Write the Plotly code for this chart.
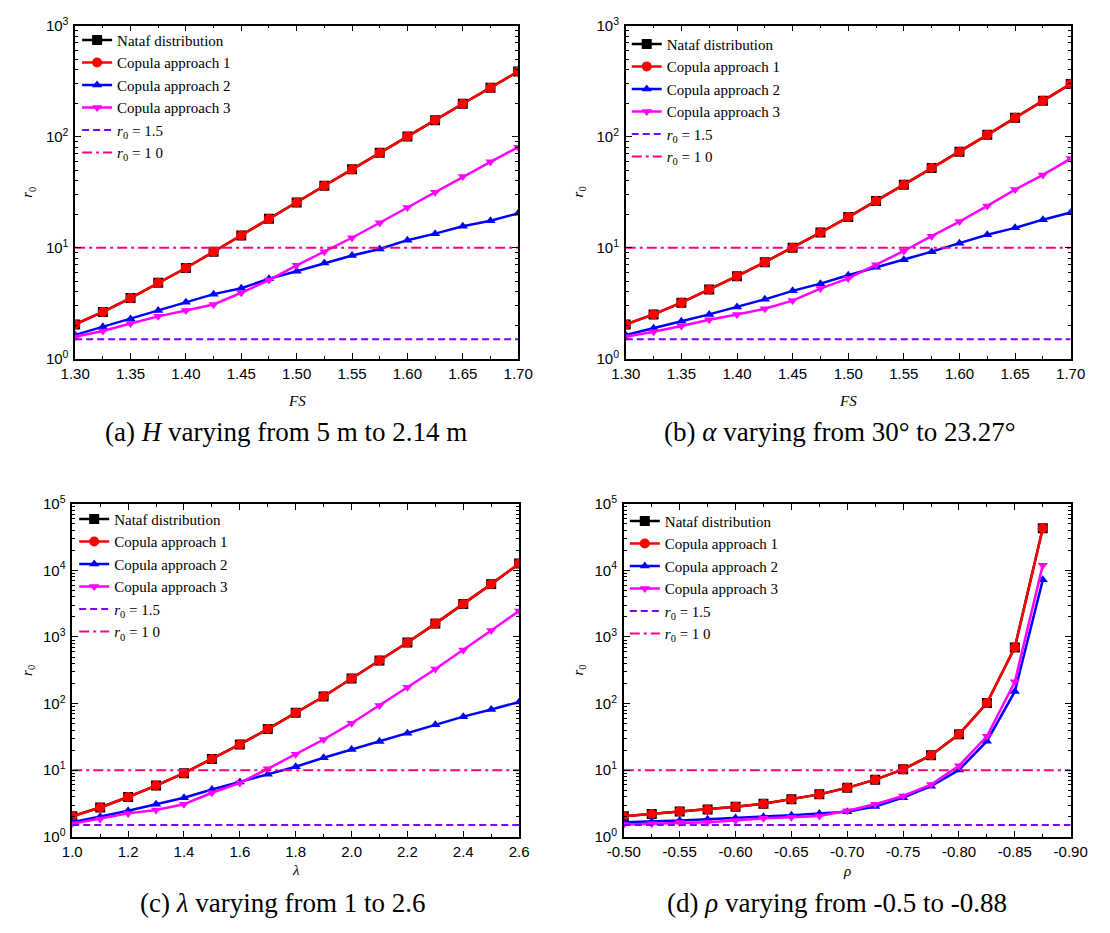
import plotly.graph_objects as go

# ---------------- data ----------------
fs_vals = [1.30, 1.325, 1.35, 1.375, 1.40, 1.425, 1.45, 1.475, 1.50, 1.525, 1.55, 1.575, 1.60, 1.625, 1.65, 1.675, 1.70]
lam_vals = [1.0, 1.1, 1.2, 1.3, 1.4, 1.5, 1.6, 1.7, 1.8, 1.9, 2.0, 2.1, 2.2, 2.3, 2.4, 2.5, 2.6]
rho_vals = [-0.500, -0.525, -0.550, -0.575, -0.600, -0.625, -0.650, -0.675, -0.700, -0.725, -0.750, -0.775, -0.800, -0.825, -0.850, -0.875]

a_nataf = [2.04, 2.64, 3.52, 4.84, 6.57, 9.2, 12.9, 18.2, 25.6, 36.2, 50.8, 71.8, 100.7, 141, 198, 276, 387]
a_cop1 = [2.04, 2.64, 3.52, 4.84, 6.57, 9.2, 12.9, 18.2, 25.6, 36.2, 50.8, 71.8, 100.7, 141, 198, 276, 387]
a_cop2 = [1.64, 1.94, 2.28, 2.72, 3.23, 3.82, 4.32, 5.25, 6.14, 7.27, 8.5, 9.73, 11.7, 13.4, 15.6, 17.5, 20.4]
a_cop3 = [1.58, 1.78, 2.08, 2.41, 2.72, 3.08, 3.93, 5.11, 6.94, 9.22, 12.3, 16.8, 23.0, 31.6, 43.8, 59.4, 80.5]

b_nataf = [2.04, 2.51, 3.2, 4.2, 5.55, 7.42, 10.0, 13.7, 18.9, 26.3, 37.0, 52.2, 73.2, 104, 148, 211, 299]
b_cop1 = [2.04, 2.51, 3.2, 4.2, 5.55, 7.42, 10.0, 13.7, 18.9, 26.3, 37.0, 52.2, 73.2, 104, 148, 211, 299]
b_cop2 = [1.64, 1.88, 2.18, 2.51, 2.92, 3.43, 4.09, 4.75, 5.66, 6.66, 7.78, 9.22, 11.0, 13.1, 15.1, 17.9, 20.8]
b_cop3 = [1.58, 1.75, 1.97, 2.25, 2.5, 2.82, 3.34, 4.29, 5.29, 7.03, 9.35, 12.7, 17.2, 23.8, 33.4, 45.3, 63.5]

c_nataf = [2.04, 2.76, 3.96, 5.88, 9.03, 14.7, 24.4, 41.5, 72.9, 128, 238, 443, 826, 1588, 3126, 6220, 12680]
c_cop1 = [2.04, 2.76, 3.96, 5.88, 9.03, 14.7, 24.4, 41.5, 72.9, 128, 238, 443, 826, 1588, 3126, 6220, 12680]
c_cop2 = [1.66, 2.01, 2.47, 3.09, 3.87, 5.14, 6.66, 8.73, 11.3, 15.4, 20.4, 27.0, 35.8, 48.0, 63.7, 81.6, 106]
c_cop3 = [1.57, 1.86, 2.25, 2.52, 3.09, 4.59, 6.44, 10.5, 17.4, 28.9, 50.8, 93.5, 176, 331, 637, 1253, 2466]

d_nataf = [2.04, 2.2, 2.41, 2.58, 2.83, 3.13, 3.66, 4.34, 5.44, 7.21, 10.3, 16.8, 34.6, 102, 697, 42900]
d_cop1 = [2.04, 2.2, 2.41, 2.58, 2.83, 3.13, 3.66, 4.34, 5.44, 7.21, 10.3, 16.8, 34.6, 102, 697, 42900]
d_cop2 = [1.66, 1.7, 1.76, 1.84, 1.92, 2.01, 2.11, 2.25, 2.38, 2.86, 3.87, 5.75, 10.1, 27.3, 152, 7210]
d_cop3 = [1.53, 1.57, 1.64, 1.66, 1.76, 1.90, 1.97, 2.06, 2.47, 3.09, 4.1, 6.09, 11.7, 32.3, 213, 11980]

r0_low = 1.5
r0_high = 10

series_names = ["Nataf distribution", "Copula approach 1", "Copula approach 2", "Copula approach 3"]
line_names = ["<i>r</i><sub>0</sub> = 1.5", "<i>r</i><sub>0</sub> = 1 0"]

a_ticks = [1.30, 1.35, 1.40, 1.45, 1.50, 1.55, 1.60, 1.65, 1.70]
c_ticks = [1.0, 1.2, 1.4, 1.6, 1.8, 2.0, 2.2, 2.4, 2.6]
d_ticks = [-0.50, -0.55, -0.60, -0.65, -0.70, -0.75, -0.80, -0.85, -0.90]

captions = [
    "(a) <i>H</i> varying from 5 m to 2.14 m",
    "(b) <i>\u03b1</i> varying from 30\u00b0 to 23.27\u00b0",
    "(c) <i>\u03bb</i> varying from 1 to 2.6",
    "(d) <i>\u03c1</i> varying from -0.5 to -0.88",
]

# ---------------- styling ----------------
W, H = 1110, 933
SERIF = "Liberation Serif, Times New Roman, serif"
SANS = "Liberation Sans, Arial, sans-serif"

styles = [
    dict(color="#000000", symbol="square", size=10),
    dict(color="#FF0000", symbol="circle", size=10),
    dict(color="#0000FF", symbol="triangle-up", size=9),
    dict(color="#FF00FF", symbol="triangle-down", size=9),
]
ref_styles = [
    dict(color="#8000FF", dash="7px,4px"),
    dict(color="#FF0080", dash="10px,4px,3px,4px"),
]

# panel boxes in pixels: left, right, top, bottom
boxes = [
    (60, 517, 15, 355),
    (628, 1087, 15, 355),
    (57, 518, 503, 843),
    (626, 1087, 503, 843),
]
legend_pos = [(62, 13), (629, 17), (59, 502), (627, 504)]
caption_pos = [(278, 430), (848, 430), (274, 911), (846, 911)]
xtitle_y = [398, 398, 877, 878]
ytitle_x = [12, 580, 12, 580]

panels = [
    dict(x=fs_vals, ys=[a_nataf, a_cop1, a_cop2, a_cop3], xr=[1.30, 1.70], ticks=a_ticks, fmt="{:.2f}", minor=0.025, yr=[0, 3], xt="<i>FS</i>"),
    dict(x=fs_vals, ys=[b_nataf, b_cop1, b_cop2, b_cop3], xr=[1.30, 1.70], ticks=a_ticks, fmt="{:.2f}", minor=0.025, yr=[0, 3], xt="<i>FS</i>"),
    dict(x=lam_vals, ys=[c_nataf, c_cop1, c_cop2, c_cop3], xr=[1.0, 2.6], ticks=c_ticks, fmt="{:.1f}", minor=0.1, yr=[0, 5], xt="<i>\u03bb</i>"),
    dict(x=rho_vals, ys=[d_nataf, d_cop1, d_cop2, d_cop3], xr=[-0.50, -0.90], ticks=d_ticks, fmt="{:.2f}", minor=-0.025, yr=[0, 5], xt="<i>\u03c1</i>"),
]

fig = go.Figure()
layout = dict(
    width=W, height=H, margin=dict(l=0, r=0, t=0, b=0),
    paper_bgcolor="white", plot_bgcolor="white", showlegend=True,
    font=dict(family=SERIF, color="black"),
)
annotations = []

for i, p in enumerate(panels):
    k = "" if i == 0 else str(i + 1)
    xa, ya = "x" + k, "y" + k
    leg = "legend" + k
    for j in range(4):
        s = styles[j]
        fig.add_trace(go.Scatter(
            x=p["x"], y=p["ys"][j], mode="lines+markers", name=series_names[j],
            xaxis=xa, yaxis=ya, legend=leg,
            line=dict(color=s["color"], width=2.5),
            marker=dict(color=s["color"], symbol=s["symbol"], size=s["size"]),
        ))
    for j, val in enumerate([r0_low, r0_high]):
        rs = ref_styles[j]
        fig.add_trace(go.Scatter(
            x=p["xr"], y=[val, val], mode="lines", name=line_names[j],
            xaxis=xa, yaxis=ya, legend=leg,
            line=dict(color=rs["color"], width=2, dash=rs["dash"]),
        ))

    l, r, t, b = boxes[i]
    x0, x1 = p["xr"]
    n = int(round((x1 - x0) / p["minor"]))
    minors = [round(x0 + m * p["minor"], 4) for m in range(n + 1)]
    ymin_dec, ymax_dec = p["yr"]
    ytickvals = [10 ** e for e in range(ymin_dec, ymax_dec + 1)]
    yticktext = ["10<sup>%d</sup>" % e for e in range(ymin_dec, ymax_dec + 1)]
    yminor = [m * 10 ** e for e in range(ymin_dec, ymax_dec) for m in range(2, 10)]

    layout["xaxis" + k] = dict(
        domain=[l / W, r / W], anchor=ya, range=p["xr"],
        tickvals=p["ticks"], ticktext=[p["fmt"].format(t_) for t_ in p["ticks"]],
        ticks="inside", ticklen=6, tickwidth=1, tickcolor="black",
        showline=True, linecolor="black", linewidth=1.5, mirror="ticks",
        showgrid=False, zeroline=False,
        tickfont=dict(family=SANS, size=15, color="black"),
        minor=dict(tickvals=minors, ticks="inside", ticklen=3, tickcolor="black", showgrid=False),
    )
    layout["yaxis" + k] = dict(
        domain=[1 - b / H, 1 - t / H], anchor=xa, type="log", range=p["yr"],
        tickvals=ytickvals, ticktext=yticktext,
        ticks="inside", ticklen=6, tickwidth=1, tickcolor="black",
        showline=True, linecolor="black", linewidth=1.5, mirror="ticks",
        showgrid=False, zeroline=False, ticklabelstandoff=2,
        tickfont=dict(family=SANS, size=15, color="black"),
        minor=dict(tickvals=yminor, ticks="inside", ticklen=3, tickcolor="black", showgrid=False),
    )
    lx, ly = legend_pos[i]
    layout["legend" + k] = dict(
        x=lx / W, y=1 - ly / H, xanchor="left", yanchor="top",
        bgcolor="rgba(0,0,0,0)", borderwidth=0,
        font=dict(family=SERIF, size=15, color="black"),
        tracegroupgap=0, itemwidth=30,
    )
    cx, cy = caption_pos[i]
    annotations.append(dict(text=captions[i], x=cx / W, y=1 - cy / H, xref="paper", yref="paper",
                            showarrow=False, xanchor="center", yanchor="middle",
                            font=dict(family=SERIF, size=27, color="black")))
    annotations.append(dict(text=p["xt"], x=(l + r) / 2 / W, y=1 - xtitle_y[i] / H, xref="paper", yref="paper",
                            showarrow=False, xanchor="center", yanchor="middle",
                            font=dict(family=SERIF, size=15, color="black")))
    annotations.append(dict(text="<i>r</i><sub>0</sub>", x=ytitle_x[i] / W, y=1 - (t + b) / 2 / H, xref="paper", yref="paper",
                            showarrow=False, xanchor="center", yanchor="middle", textangle=-90,
                            font=dict(family=SERIF, size=15, color="black")))

layout["annotations"] = annotations
fig.update_layout(**layout)
fig.write_html("out.html", config={"displayModeBar": False},
               post_script="document.body.style.margin='0';")
